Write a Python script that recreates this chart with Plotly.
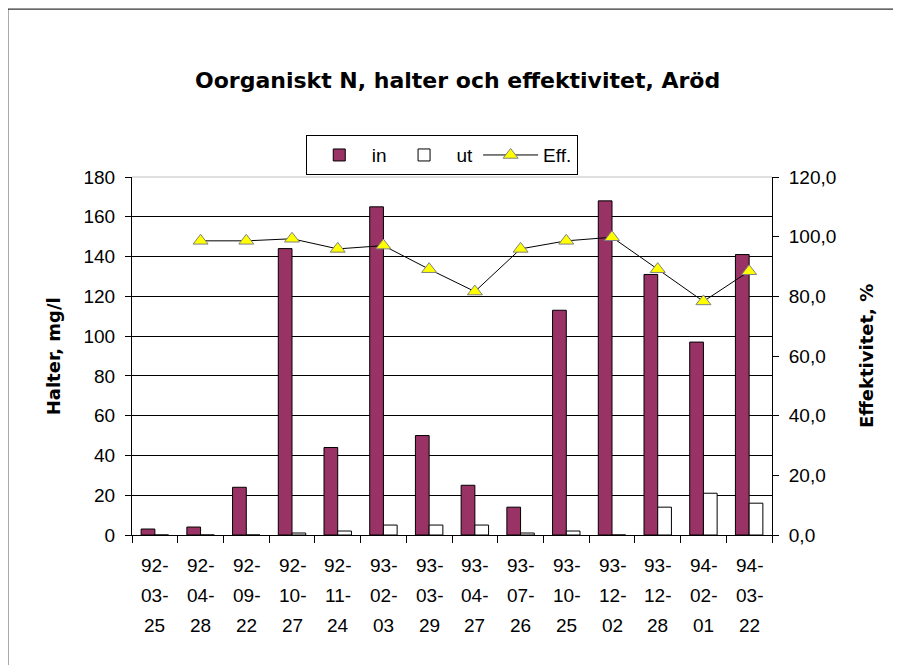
import plotly.graph_objects as go

dates = ["92-03-25", "92-04-28", "92-09-22", "92-10-27", "92-11-24", "93-02-03", "93-03-29",
         "93-04-27", "93-07-26", "93-10-25", "93-12-02", "93-12-28", "94-02-01", "94-03-22"]
halt_in = [3, 4, 24, 144, 44, 165, 50, 25, 14, 113, 168, 131, 97, 141]
halt_ut = [0, 0, 0, 1, 2, 5, 5, 5, 1, 2, 0, 14, 21, 16]
eff = [None, 98.6, 98.6, 99.3, 95.9, 97.0, 89.1, 81.6, 95.9, 98.6, 99.8, 89.1, 78.3, 88.4]

FONT = "Liberation Sans, Arial, sans-serif"
BOLD = "DejaVu Sans, Liberation Sans, sans-serif"

fig = go.Figure()
fig.add_trace(go.Bar(x=dates, y=halt_in, name="in",
                     marker=dict(color="#993366", line=dict(color="black", width=1))))
fig.add_trace(go.Bar(x=dates, y=halt_ut, name="ut",
                     marker=dict(color="white", line=dict(color="black", width=1))))
fig.add_trace(go.Scatter(x=dates, y=eff, name="Eff.", yaxis="y2", mode="lines+markers",
                         line=dict(color="black", width=1),
                         marker=dict(symbol="triangle-up", size=13, color="#ffff00",
                                     line=dict(color="#808080", width=1))))

annotations = []
for d in dates:
    parts = d.split("-")
    lines = [parts[0] + "-", parts[1] + "-", parts[2]]
    for k, t in enumerate(lines):
        annotations.append(dict(x=d, xref="x", y=-0.0838 * (k + 1), yref="paper",
                                text=t, showarrow=False, xanchor="center", yanchor="middle",
                                font=dict(size=19, color="black", family=FONT)))
annotations.append(dict(x=-0.123, xref="paper", y=0.5, yref="paper", text="<b>Halter, mg/l</b>",
                        textangle=-90, showarrow=False, xanchor="center", yanchor="middle",
                        font=dict(size=18, color="black", family=BOLD)))
annotations.append(dict(x=1.147, xref="paper", y=0.5, yref="paper", text="<b>Effektivitet, %</b>",
                        textangle=-90, showarrow=False, xanchor="center", yanchor="middle",
                        font=dict(size=18, color="black", family=BOLD)))
annotations.append(dict(x=0.508, xref="paper", y=1.27, yref="paper",
                        text="<b>Oorganiskt N, halter och effektivitet, Aröd</b>",
                        showarrow=False, xanchor="center", yanchor="middle",
                        font=dict(size=22, color="black", family=BOLD)))

fig.update_layout(
    width=901, height=665,
    margin=dict(l=124, r=137, t=169, b=138),
    paper_bgcolor="white", plot_bgcolor="white",
    font=dict(family=FONT, size=19, color="black"),
    separators=", ",
    barmode="group", bargap=0.4, bargroupgap=0,
    showlegend=True,
    legend=dict(orientation="h", x=0.484, xanchor="center", y=1.117, yanchor="top",
                bordercolor="black", borderwidth=1, bgcolor="white", itemwidth=55,
                font=dict(size=19, family=FONT), traceorder="normal"),
    xaxis=dict(type="category", categoryarray=dates, tickson="boundaries",
               ticks="outside", ticklen=7, tickcolor="black", showticklabels=False,
               showline=True, linecolor="black", linewidth=1, showgrid=False,
               range=[-0.5, 13.5]),
    xaxis2=dict(overlaying="x", anchor="y", range=[-0.5, 13.5],
                tickvals=[i - 0.5 for i in range(15)], ticks="inside", ticklen=6,
                tickcolor="black", showticklabels=False, showline=False, showgrid=False,
                zeroline=False),
    yaxis=dict(range=[0, 180], dtick=20, ticks="outside", ticklen=6, tickcolor="black",
               ticklabelstandoff=6,
               showline=True, linecolor="black", linewidth=1, showgrid=True,
               gridcolor="black", gridwidth=1, zeroline=False),
    yaxis2=dict(overlaying="y", side="right", anchor="x", range=[0, 120], dtick=20,
                tickformat=".1f", ticks="outside", ticklen=6, tickcolor="black",
                ticklabelstandoff=6,
                showline=True, linecolor="black", linewidth=1, showgrid=False, zeroline=False),
    yaxis3=dict(overlaying="y", side="right", anchor="x", range=[0, 120], dtick=20,
                ticks="inside", ticklen=6, tickcolor="black", showticklabels=False,
                showline=False, showgrid=False, zeroline=False),
    annotations=annotations,
    shapes=[
        dict(type="line", xref="paper", yref="paper", x0=0, x1=1, y0=1, y1=1,
             line=dict(color="#c0c0c0", width=1), layer="above"),
        dict(type="rect", xref="paper", yref="paper", x0=-0.194, x1=1.25, y0=-0.4, y1=1.469,
             line=dict(color="black", width=1), layer="below"),
    ],
)

fig.write_html("out.html")
